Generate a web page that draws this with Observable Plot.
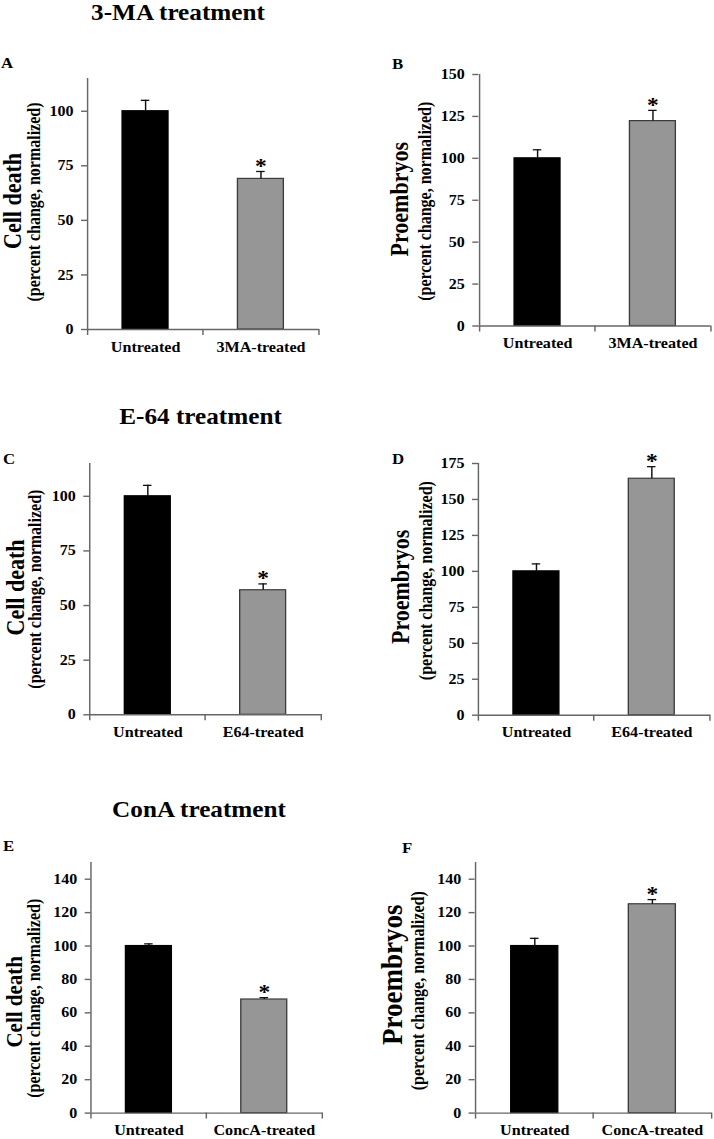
<!DOCTYPE html>
<html>
<head>
<meta charset="utf-8">
<script src="https://cdn.jsdelivr.net/npm/d3@7"></script>
<script src="https://cdn.jsdelivr.net/npm/@observablehq/plot@0.6"></script>
<style>
  html, body { margin: 0; padding: 0; background: #fff; overflow: hidden; width: 714px; height: 1139px; }
  #fig { position: relative; height: 1139px; overflow: visible; transform-origin: 0 0;
         font-family: "Liberation Serif", "Times New Roman", serif; font-weight: bold; color: #000; }
  .abs { position: absolute; white-space: nowrap; }
  .title { transform: translateX(-50%); }
</style>
</head>
<body>
<div id="fig"></div>
<script>
// ---------------- data ----------------
const treatmentTitles = ["3-MA treatment", "E-64 treatment", "ConA treatment"];
const panelLetters = [["A", "B"], ["C", "D"], ["E", "F"]];
const untreatedLabel = "Untreated";
const treatedLabels = ["3MA-treated", "E64-treated", "ConcA-treated"];

const cellDeathMean = [[100, 69.0], [100, 57.0], [100, 68.0]];
const cellDeathErr  = [[5.0, 3.4], [5.0, 2.9], [1.3, 1.1]];
const proembryoMean = [[100, 122.2], [100, 164.4], [100, 125.0]];
const proembryoErr  = [[5.1, 6.4], [5.2, 8.4], [4.6, 2.8]];
const significant   = [false, true];   // * marks treated vs untreated

const cellDeathTicks = [[0, 25, 50, 75, 100], [0, 25, 50, 75, 100], [0, 20, 40, 60, 80, 100, 120, 140]];
const cellDeathMax   = [115, 115, 150];
const proembryoTicks = [[0, 25, 50, 75, 100, 125, 150], [0, 25, 50, 75, 100, 125, 150, 175], [0, 20, 40, 60, 80, 100, 120, 140]];
const proembryoMax   = [150, 175, 150];

const yLabelMain = ["Cell death", "Proembryos"];
const yLabelSub = "(percent change, normalized)";

// ---------------- style / layout ----------------
const FONT = '"Liberation Serif", "Times New Roman", serif';
const barFills = ["#000000", "#969696"];
const barStrokes = ["#000000", "#3c3c3c"];
const axisColor = "#666666";
const S = 1.12;                 // the original figure is stretched horizontally
const X = v => v / S;           // page x (reference pixels) -> layout x

// frames in page pixels: [col, x0, x1, y0, y1, marginBottom]
const frames = [
  [[0, 87, 319, 78, 329, 30], [357, 478, 710, 73.5, 325, 30]],
  [[0, 89.3, 321.7, 462.7, 714, 30], [357, 477.7, 710, 463.3, 715, 30]],
  [[0, 90.7, 322.7, 861.7, 1112.3, 26], [357, 474.3, 711.3, 861.7, 1112.3, 26]]
];
// y-label placement: [mainSize, mainDx, mainDy, subDx, subDy]
const labelPos = [
  [[22, -66.3, -3, -48, -2], [22, -70.5, -1, -47.5, 1]],
  [[22, -66, -1.7, -49.3, 0], [22, -70, -2.5, -47, -8.7]],
  [[21, -69, 14, -51, 10.5], [27, -73.5, -13, -50.8, 3]]
];
const titlePos = [[178, 20.5], [200.5, 425], [199, 817.3]];      // center x, baseline
const letterPos = [[[1, 68.3], [392, 69.3]], [[3, 465], [392, 465]], [[3, 851.7], [402, 853.3]]];

const fig = document.getElementById("fig");
fig.style.width = X(714) + "px";
fig.style.transform = `scaleX(${S})`;

function addText(cls, text, left, baseline, size, lh) {
  const d = document.createElement("div");
  d.className = "abs " + cls;
  d.textContent = text;
  d.style.fontSize = size + "px";
  d.style.lineHeight = lh + "px";
  d.style.left = X(left) + "px";
  d.style.top = (baseline - lh / 2 - 0.3375 * size) + "px";
  fig.appendChild(d);
}

function panel(row, colIdx, means, errs, ticks, ymax) {
  const [col, x0, x1, y0, y1, mb] = frames[row][colIdx];
  const [mainSize, mainDx, mainDy, subDx, subDy] = labelPos[row][colIdx];
  const cats = [untreatedLabel, treatedLabels[row]];
  const data = cats.map((c, i) => ({cat: c, mean: means[i], err: errs[i], sig: significant[i], idx: i}));
  const mt = 40;
  const width = X(357);
  const marginLeft = X(x0 - col);
  const marginRight = width - X(x1 - col);
  const height = (y1 - y0) + mt + mb;
  const step = X(x1 - x0) / cats.length;
  const bw = step * 0.4;
  const capInset = (bw - X(9)) / 2;

  const svg = Plot.plot({
    width, height, marginLeft, marginRight, marginTop: mt, marginBottom: mb,
    style: {fontFamily: FONT, fontSize: "14.4px", fontWeight: "bold", background: "transparent", overflow: "visible", color: "#000"},
    x: {domain: cats, paddingInner: 0.6, paddingOuter: 0.3},
    y: {domain: [0, ymax]},
    color: {type: "identity"},
    marks: [
      Plot.barY(data, {x: "cat", y: "mean", fill: d => barFills[d.idx], stroke: d => barStrokes[d.idx], strokeWidth: 1.2}),
      Plot.ruleX(data, {x: "cat", y1: "mean", y2: d => d.mean + d.err, stroke: "#111", strokeWidth: 1.3}),
      Plot.tickY(data, {x: "cat", y: d => d.mean + d.err, insetLeft: capInset, insetRight: capInset, stroke: "#111", strokeWidth: 1.3}),
      Plot.text(data.filter(d => d.sig), {x: "cat", y: d => d.mean + d.err, text: () => "*", fontSize: 21, lineAnchor: "bottom", dy: 1.5, fill: "#000"}),
      // axis lines and category boundary ticks
      Plot.ruleY([0], {stroke: axisColor, strokeWidth: 1.4}),
      Plot.ruleX([cats[0]], {dx: -step / 2, stroke: axisColor, strokeWidth: 1.3}),
      Plot.ruleX(cats, {x: d => d, dx: -step / 2, y1: 0, y2: 0, insetBottom: -6, stroke: axisColor, strokeWidth: 1.3}),
      Plot.ruleX([cats[cats.length - 1]], {dx: step / 2, y1: 0, y2: 0, insetBottom: -6, stroke: axisColor, strokeWidth: 1.3}),
      Plot.axisY({ticks, tickSize: X(6), tickPadding: X(8), stroke: axisColor, strokeWidth: 1.4, fill: "#000", label: null, fontSize: 14.3}),
      Plot.axisX({tickSize: 0, tickPadding: 12, label: null, fill: "#000", fontSize: 14.4}),
      // y labels
      Plot.text([yLabelMain[colIdx]], {text: d => d, frameAnchor: "left", rotate: -90, dx: X(mainDx), dy: mainDy, fontSize: mainSize, lineAnchor: "bottom", textAnchor: "middle", fill: "#000"}),
      Plot.text([yLabelSub], {text: d => d, frameAnchor: "left", rotate: -90, dx: X(subDx), dy: subDy, fontSize: 16, lineAnchor: "bottom", textAnchor: "middle", fill: "#000"})
    ]
  });
  svg.style.position = "absolute";
  svg.style.left = X(col) + "px";
  svg.style.top = (y0 - mt) + "px";
  fig.appendChild(svg);
}

for (let r = 0; r < 3; r++) {
  addText("title", treatmentTitles[r], titlePos[r][0], titlePos[r][1], 22.5, 18);
  panel(r, 0, cellDeathMean[r], cellDeathErr[r], cellDeathTicks[r], cellDeathMax[r]);
  panel(r, 1, proembryoMean[r], proembryoErr[r], proembryoTicks[r], proembryoMax[r]);
  for (let c = 0; c < 2; c++) {
    addText("letter", panelLetters[r][c], letterPos[r][c][0], letterPos[r][c][1], 15, 15);
  }
}
</script>
</body>
</html>
